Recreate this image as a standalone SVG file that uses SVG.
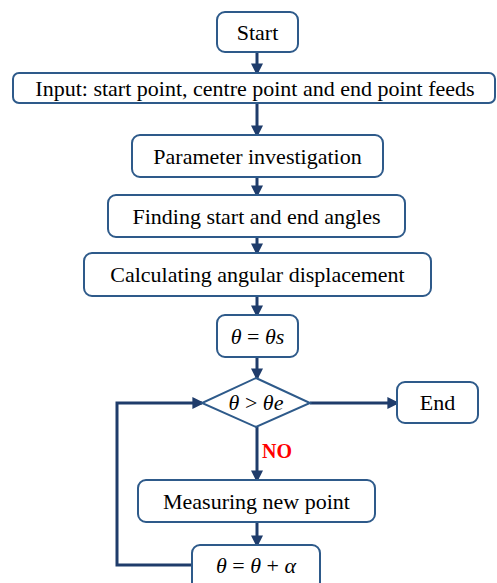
<svg xmlns="http://www.w3.org/2000/svg" width="497" height="583" viewBox="0 0 497 583">
<style>
.box{fill:#fff;stroke:#2e5a8a;stroke-width:2}
.t{font-family:"Liberation Serif","Times New Roman",serif;font-size:22px;fill:#000;text-anchor:middle}
.m{font-style:italic}
.c{fill:none;stroke:#1f3c6b;stroke-width:3}
</style>
<defs>
<marker id="ah" markerWidth="4" markerHeight="4" refX="3.2" refY="2" orient="auto" markerUnits="strokeWidth">
<path d="M0,0 L4,2 L0,4 z" fill="#1f3c6b"/>
</marker>
</defs>
<rect width="497" height="583" fill="#fff"/>
<g id="connectors">
<path class="c" d="M257,52 V73" marker-end="url(#ah)"/>
<path class="c" d="M257,103 V135" marker-end="url(#ah)"/>
<path class="c" d="M257,177 V195" marker-end="url(#ah)"/>
<path class="c" d="M257,237 V253" marker-end="url(#ah)"/>
<path class="c" d="M257,296 V315" marker-end="url(#ah)"/>
<path class="c" d="M257,357 V378" marker-end="url(#ah)"/>
<path class="c" d="M310,403 H397" marker-end="url(#ah)"/>
<path class="c" d="M257,427 V480" marker-end="url(#ah)"/>
<path class="c" d="M257,522 V545" marker-end="url(#ah)"/>
<path class="c" d="M192,565 H117 V403 H202" marker-end="url(#ah)"/>
<text x="262" y="458" font-family="Liberation Serif,serif" font-size="20" font-weight="bold" fill="#ff0000">NO</text>
</g>
<g id="start"><rect class="box" x="217" y="12" width="81" height="40" rx="8"/><text class="t" x="257.5" y="39.5">Start</text></g>
<g id="input"><rect class="box" x="13" y="73" width="482" height="30" rx="6"/><text class="t" x="255" y="95.5">Input: start point, centre point and end point feeds</text></g>
<g id="param"><rect class="box" x="132" y="135" width="251" height="42" rx="8"/><text class="t" x="257.5" y="163.5">Parameter investigation</text></g>
<g id="finding"><rect class="box" x="108" y="195" width="297" height="42" rx="8"/><text class="t" x="256.5" y="223.5">Finding start and end angles</text></g>
<g id="calc"><rect class="box" x="84" y="253" width="347" height="43" rx="8"/><text class="t" x="257.5" y="282">Calculating angular displacement</text></g>
<g id="init"><rect class="box" x="217" y="315" width="81" height="42" rx="8"/><text class="t" x="257.5" y="343.5"><tspan class="m">θ</tspan> = <tspan class="m">θs</tspan></text></g>
<g id="decision"><path class="box" d="M256,378 L310,403 L256,427 L202,403 Z"/><text class="t" x="256" y="410"><tspan class="m">θ</tspan> &gt; <tspan class="m">θe</tspan></text></g>
<g id="end"><rect class="box" x="397" y="382" width="81" height="41" rx="8"/><text class="t" x="437.5" y="410">End</text></g>
<g id="measure"><rect class="box" x="138" y="480" width="237" height="42" rx="8"/><text class="t" x="256.5" y="508.5">Measuring new point</text></g>
<g id="update"><rect class="box" x="192" y="545" width="128" height="45" rx="8"/><text class="t" x="256" y="573"><tspan class="m">θ</tspan> = <tspan class="m">θ</tspan> + <tspan class="m">α</tspan></text></g>
</svg>
